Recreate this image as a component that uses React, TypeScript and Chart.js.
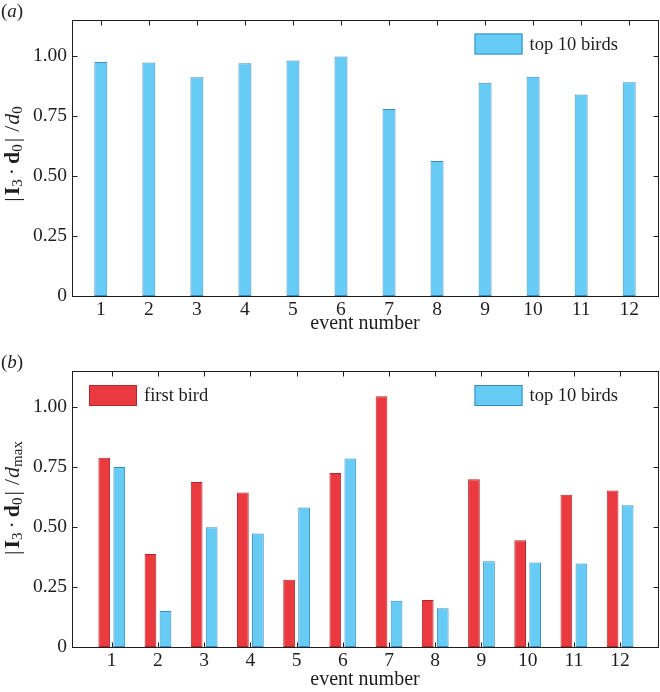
import React, { useEffect, useRef } from 'react';
import { Chart, registerables } from 'chart.js';

Chart.register(...registerables);

// ---------------- data ----------------
const eventNumbers = [1, 2, 3, 4, 5, 6, 7, 8, 9, 10, 11, 12];
const topTenBirdsA = [0.975, 0.973, 0.911, 0.970, 0.981, 0.998, 0.779, 0.563, 0.889, 0.914, 0.840, 0.891];
const firstBirdB = [0.789, 0.388, 0.687, 0.644, 0.280, 0.725, 1.045, 0.196, 0.699, 0.445, 0.634, 0.652];
const topTenBirdsB = [0.750, 0.150, 0.499, 0.473, 0.581, 0.785, 0.193, 0.161, 0.357, 0.352, 0.348, 0.591];
const yTickValues = [0, 0.25, 0.5, 0.75, 1.0];
const Y_MAX = 1.15;
const xAxisLabel = 'event number';
const seriesNamesA = ['top 10 birds'];
const seriesNamesB = ['first bird', 'top 10 birds'];
const panelNames = ['a', 'b'];

// ---------------- style ----------------
const SERIF = "'Liberation Serif', 'Times New Roman', Times, serif";
const INK = '#1e1e1e';
const BLUE = '#67CCF5';
const BLUE_EDGE = '#3B8CBF';
const RED = '#EA3A40';
const RED_EDGE = '#B3262C';

type Seg = { t: string; style?: string; weight?: string; size: number; dy?: number; gap?: number };

const labelBase: Seg[] = [
  { t: '|', size: 22, gap: 2 },
  { t: 'I', weight: 'bold', size: 22 },
  { t: '3', size: 15, dy: 3, gap: 4 },
  { t: '\u00B7', size: 22, gap: 4 },
  { t: 'd', weight: 'bold', size: 22 },
  { t: '0', size: 15, dy: 3, gap: 2 },
  { t: '|', size: 22, gap: 6 },
  { t: '/', size: 22, gap: 1 },
  { t: 'd', style: 'italic', size: 22 },
];
const yLabelA: Seg[] = [...labelBase, { t: '0', size: 15, dy: 3 }];
const yLabelB: Seg[] = [...labelBase, { t: 'max', size: 15, dy: 3 }];

function setFont(ctx: CanvasRenderingContext2D, s: Seg) {
  ctx.font = `${s.style || 'normal'} ${s.weight || 'normal'} ${s.size}px ${SERIF}`;
}
function richWidth(ctx: CanvasRenderingContext2D, segs: Seg[]) {
  let w = 0;
  segs.forEach((s, i) => {
    setFont(ctx, s);
    w += ctx.measureText(s.t).width + (i < segs.length - 1 ? s.gap || 0 : 0);
  });
  return w;
}
function drawRich(ctx: CanvasRenderingContext2D, segs: Seg[], x0: number, baseline: number) {
  let x = x0;
  ctx.textBaseline = 'alphabetic';
  ctx.textAlign = 'left';
  for (const s of segs) {
    setFont(ctx, s);
    ctx.fillText(s.t, x, baseline + (s.dy || 0));
    x += ctx.measureText(s.t).width + (s.gap || 0);
  }
}

type LegendItem = { ds: number; x: number; y: number };
type FrameCfg = {
  id: string;
  legends: LegendItem[];
  yLabel: Seg[];
  yLabelCenter: number;
  yLabelBaseline: number;
  panel: string;
  panelBaseline: number;
};

function makeFrame(cfg: FrameCfg) {
  const L = 5;
  return {
    id: 'frame' + cfg.id,
    beforeDatasetsDraw(chart: any) {
      const { ctx, chartArea: a, scales } = chart;
      const sx = scales.x;
      const sy = scales.y;
      const top = Math.floor(a.top) + 0.5;
      const bottom = Math.floor(a.bottom) + 0.5;
      const left = Math.floor(a.left) + 0.5;
      const right = Math.floor(a.right) + 0.5;
      ctx.save();
      ctx.strokeStyle = INK;
      ctx.lineWidth = 1;
      ctx.beginPath();
      sx.ticks.forEach((t: any) => {
        const p = Math.round(sx.getPixelForValue(t.value)) + 0.5;
        ctx.moveTo(p, bottom);
        ctx.lineTo(p, bottom - L);
        ctx.moveTo(p, top);
        ctx.lineTo(p, top + L);
      });
      sy.ticks.forEach((t: any) => {
        const p = Math.round(sy.getPixelForValue(t.value)) + 0.5;
        ctx.moveTo(left, p);
        ctx.lineTo(left + L, p);
        ctx.moveTo(right, p);
        ctx.lineTo(right - L, p);
      });
      ctx.stroke();
      ctx.restore();
    },
    afterDatasetsDraw(chart: any) {
      const { ctx, chartArea: a } = chart;
      const top = Math.floor(a.top) + 0.5;
      const bottom = Math.floor(a.bottom) + 0.5;
      const left = Math.floor(a.left) + 0.5;
      const right = Math.floor(a.right) + 0.5;
      ctx.save();
      ctx.strokeStyle = INK;
      ctx.lineWidth = 1;
      ctx.strokeRect(left, top, right - left, bottom - top);
      ctx.restore();
    },
    afterDraw(chart: any) {
      const { ctx } = chart;
      ctx.save();
      // legends
      cfg.legends.forEach((it) => {
        const ds = chart.data.datasets[it.ds];
        const w = 48;
        const h = 21;
        ctx.fillStyle = ds.backgroundColor;
        ctx.fillRect(it.x, it.y, w, h);
        ctx.strokeStyle = ds.borderColor;
        ctx.lineWidth = 1;
        ctx.strokeRect(it.x + 0.5, it.y + 0.5, w - 1, h - 1);
        ctx.fillStyle = INK;
        ctx.font = `18.5px ${SERIF}`;
        ctx.textAlign = 'left';
        ctx.textBaseline = 'middle';
        ctx.fillText(ds.label, it.x + w + 7, it.y + h / 2 + 1);
      });
      // y label (rotated rich text)
      ctx.fillStyle = INK;
      const w = richWidth(ctx, cfg.yLabel);
      ctx.save();
      ctx.translate(0, cfg.yLabelCenter);
      ctx.rotate(-Math.PI / 2);
      drawRich(ctx, cfg.yLabel, -w / 2, cfg.yLabelBaseline);
      ctx.restore();
      // panel label
      drawRich(
        ctx,
        [
          { t: '(', size: 19 },
          { t: cfg.panel, style: 'italic', size: 19 },
          { t: ')', size: 19 },
        ],
        1,
        cfg.panelBaseline
      );
      ctx.restore();
    },
  };
}

function baseScales(xMin: number, xMax: number, xHeight: number, titlePadBottom: number) {
  const tickFont = { family: SERIF, size: 19.5 };
  const titleFont = { family: SERIF, size: 20 };
  return {
    x: {
      type: 'linear',
      min: xMin,
      max: xMax,
      offset: false,
      grid: { display: false, drawTicks: false },
      border: { display: false },
      ticks: { font: tickFont, color: INK, padding: 2.2, maxRotation: 0 },
      afterBuildTicks: (s: any) => {
        s.ticks = eventNumbers.map((v) => ({ value: v }));
      },
      afterFit: (s: any) => {
        s.height = xHeight;
      },
      title: { display: true, text: xAxisLabel, font: titleFont, color: INK, padding: { top: 0, bottom: titlePadBottom } },
    },
    y: {
      type: 'linear',
      min: 0,
      max: Y_MAX,
      grid: { display: false, drawTicks: false },
      border: { display: false },
      ticks: {
        font: tickFont,
        color: INK,
        padding: 5,
        callback: (v: number) => (v === 0 ? '0' : v.toFixed(2)),
      },
      afterBuildTicks: (s: any) => {
        s.ticks = yTickValues.map((v) => ({ value: v }));
      },
      afterFit: (s: any) => {
        s.width = 72;
      },
    },
  };
}

function configA(): any {
  return {
    type: 'bar',
    data: {
      datasets: [
        {
          label: seriesNamesA[0],
          data: eventNumbers.map((e, i) => ({ x: e, y: topTenBirdsA[i] })),
          backgroundColor: BLUE,
          borderColor: BLUE_EDGE,
          borderWidth: 1,
          borderSkipped: false,
          categoryPercentage: 1,
          barPercentage: 0.27,
        },
      ],
    },
    options: {
      responsive: false,
      animation: false,
      layout: { padding: { top: 20, right: 2, left: 0, bottom: 0 } },
      plugins: { legend: { display: false }, tooltip: { enabled: false } },
      scales: baseScales(0.4, 12.6, 44, 4),
    },
    plugins: [
      makeFrame({
        id: 'A',
        legends: [{ ds: 0, x: 474.5, y: 33.5 }],
        yLabel: yLabelA,
        yLabelCenter: 154,
        yLabelBaseline: 19,
        panel: panelNames[0],
        panelBaseline: 17,
      }),
    ],
  };
}

function configB(): any {
  return {
    type: 'bar',
    data: {
      datasets: [
        {
          label: seriesNamesB[0],
          data: eventNumbers.map((e, i) => ({ x: e, y: firstBirdB[i] })),
          backgroundColor: RED,
          borderColor: RED_EDGE,
          borderWidth: 1,
          borderSkipped: false,
          categoryPercentage: 0.65,
          barPercentage: 0.78,
        },
        {
          label: seriesNamesB[1],
          data: eventNumbers.map((e, i) => ({ x: e, y: topTenBirdsB[i] })),
          backgroundColor: BLUE,
          borderColor: BLUE_EDGE,
          borderWidth: 1,
          borderSkipped: false,
          categoryPercentage: 0.65,
          barPercentage: 0.78,
        },
      ],
    },
    options: {
      responsive: false,
      animation: false,
      layout: { padding: { top: 31, right: 2, left: 0, bottom: 0 } },
      plugins: { legend: { display: false }, tooltip: { enabled: false } },
      scales: baseScales(0.14, 12.82, 45, 0),
    },
    plugins: [
      makeFrame({
        id: 'B',
        legends: [
          { ds: 0, x: 89, y: 45 },
          { ds: 1, x: 474.5, y: 45 },
        ],
        yLabel: yLabelB,
        yLabelCenter: 158,
        yLabelBaseline: 19,
        panel: panelNames[1],
        panelBaseline: 28,
      }),
    ],
  };
}

export default function App() {
  const refA = useRef<HTMLCanvasElement>(null);
  const refB = useRef<HTMLCanvasElement>(null);
  useEffect(() => {
    document.body.style.margin = '0';
    const a = new Chart(refA.current as HTMLCanvasElement, configA());
    const b = new Chart(refB.current as HTMLCanvasElement, configB());
    return () => {
      a.destroy();
      b.destroy();
    };
  }, []);
  return (
    <div style={{ position: 'absolute', left: 0, top: 0, width: 660, height: 692, background: '#fff' }}>
      <canvas ref={refA} width={660} height={340} style={{ position: 'absolute', left: 0, top: 0 }} />
      <canvas ref={refB} width={660} height={352} style={{ position: 'absolute', left: 0, top: 340 }} />
    </div>
  );
}
